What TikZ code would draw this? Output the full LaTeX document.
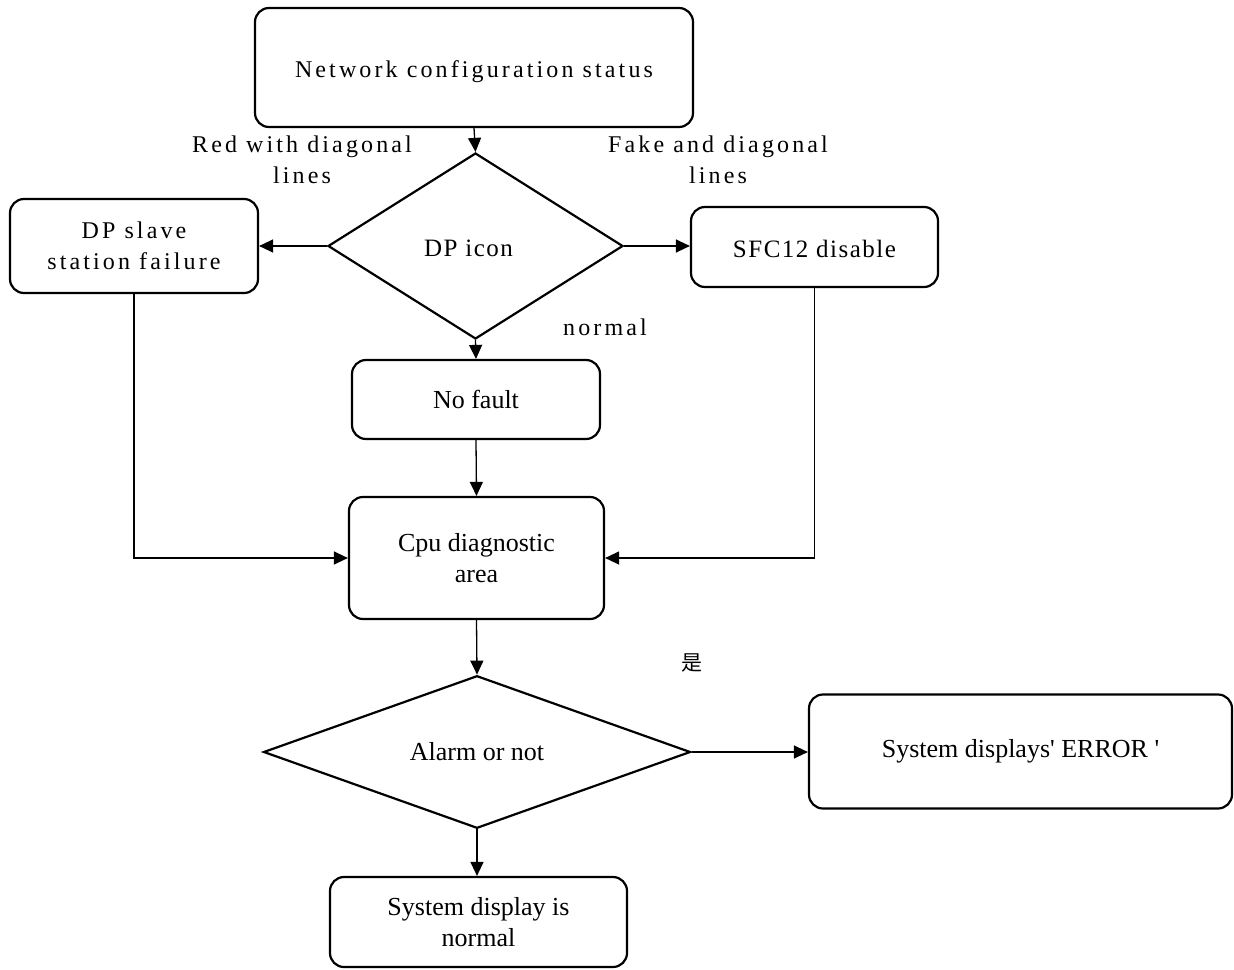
\documentclass[tikz,border=0pt]{standalone}
\usepackage{fontspec}
\setmainfont{Liberation Serif}
\newfontfamily\spacedfont[LetterSpace=13]{Liberation Serif}
\newfontfamily\slightfont[LetterSpace=6]{Liberation Serif}
\newfontfamily\straightfont[Ligatures=ResetAll]{Liberation Serif}
\newfontfamily\cjk{Noto Sans CJK SC}
\usetikzlibrary{shapes.geometric,arrows.meta}
\newcommand{\lowertext}[2]{\raisebox{-#1}[\height][\depth]{#2}}
\begin{document}
\begin{tikzpicture}[x=1pt,y=-1pt,
  box/.style={draw,line width=2.2pt,rounded corners=14pt,inner sep=0pt,align=center},
  dia/.style={draw,diamond,line width=2.2pt,inner sep=0pt,align=center},
  plain/.style={font=\fontsize{26}{31}\selectfont},
  spc/.style={font=\fontsize{24}{31}\spacedfont},
  slt/.style={font=\fontsize{25}{31}\slightfont},
  conn/.style={line width=1.3pt,-{Triangle[length=14pt,width=13pt]}},
  lbl/.style={inner sep=0pt,align=center}]
\useasboundingbox (0,0) rectangle (1234,969);

\node[box,spc,minimum width=438pt,minimum height=119pt] (net) at (474,67.5) {\lowertext{4pt}{Network configuration status}};
\node[dia,slt,minimum width=295pt,minimum height=186pt] (dp) at (475.5,246) {\lowertext{2pt}{DP icon}\hspace*{14pt}};
\node[box,spc,minimum width=248pt,minimum height=94pt] (slave) at (134,246) {DP slave\\station failure};
\node[box,slt,minimum width=247pt,minimum height=80pt] (sfc) at (814.5,247) {\lowertext{2pt}{SFC12 disable}};
\node[box,plain,minimum width=248pt,minimum height=79pt] (nofault) at (476,399.5) {No fault};
\node[box,plain,minimum width=255pt,minimum height=122pt] (cpu) at (476.5,558) {Cpu diagnostic\\area};
\node[dia,plain,minimum width=427pt,minimum height=144pt] (alarm) at (477,752) {Alarm or not};
\node[box,plain,minimum width=423pt,minimum height=114pt] (err) at (1020.5,751.5) {\straightfont System displays' ERROR '};
\node[box,plain,minimum width=297pt,minimum height=90pt] (norm) at (478.5,922) {System display is\\normal};

\node[lbl,spc] (lred) at (302,160) {Red with diagonal\\lines};
\node[lbl,spc] (lfake) at (718,160) {Fake and diagonal\\lines};
\node[lbl,spc] (lnormal) at (605,327) {normal};
\node[lbl,font=\fontsize{21}{24}\cjk] (lyes) at (692,663) {是};

\draw[conn] (net.south) -- (dp.north);
\draw[conn] (dp.west) -- (dp.west -| slave.east);
\draw[conn] (dp.east) -- (dp.east -| sfc.west);
\draw[conn] (dp.south) -- (nofault.north);
\draw[conn] (nofault.south) -- (cpu.north);
\draw[conn] (slave.south) |- (cpu.west);
\draw[conn] (sfc.south) |- (cpu.east);
\draw[conn] (cpu.south) -- (alarm.north);
\draw[conn] (alarm.east) -- (alarm.east -| err.west);
\draw[conn] (alarm.south) -- (alarm.south |- norm.north);
\end{tikzpicture}
\end{document}
